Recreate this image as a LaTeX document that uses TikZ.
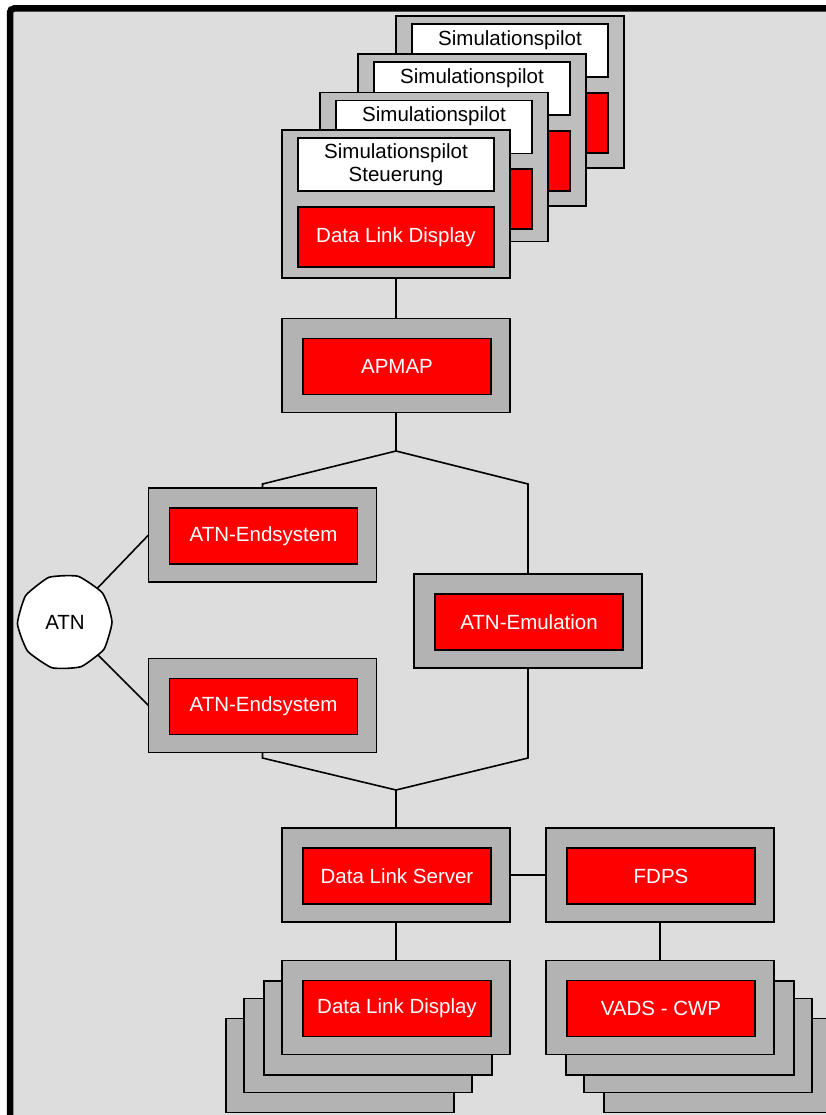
\documentclass[tikz,border=0pt]{standalone}
\usepackage{fontspec}
\setmainfont{Liberation Sans}
\definecolor{pagebg}{RGB}{221,221,221}
\definecolor{boxgray}{RGB}{179,179,179}
\definecolor{cardgray}{RGB}{190,190,190}
\definecolor{alarmred}{RGB}{255,0,0}
\begin{document}
\begin{tikzpicture}[x=1pt,y=-1pt,
  every node/.style={font=\fontsize{20.5}{23.5}\selectfont, inner sep=0pt, outer sep=0pt},
  unitbox/.style={draw=black, line width=1.8pt, fill=boxgray, minimum width=228pt, minimum height=94pt},
  cardbox/.style={draw=black, line width=1.8pt, fill=cardgray, minimum width=228pt, anchor=north west},
  redbox/.style={draw=black, line width=1.8pt, fill=alarmred, text=white, minimum width=188pt, minimum height=56pt},
  pilotbox/.style={draw=black, line width=1.8pt, fill=white, minimum width=196pt, minimum height=53pt, align=center, anchor=north},
  pilotback/.style={pilotbox, text height=21.5pt, text depth=31.5pt, minimum height=0pt},
  cardred/.style={redbox, minimum width=196pt, minimum height=60pt, anchor=north},
  wire/.style={draw=black, line width=1.6pt}
]
% sheet and frame (only its left and top edges fall inside the sheet)
\useasboundingbox (0,0) rectangle (826,1115);
\fill[pagebg] (10,8.5) rectangle (826,1115);
\draw[line width=6.5pt, rounded corners=4pt] (10,1115) -- (10,8.5) -- (826,8.5);

% stacked pilot workstations (back to front)
\node[cardbox, minimum height=152pt] (card4) at (396,16) {};
\node[pilotback] (card4w) at (510,24) {Simulationspilot};
\node[cardred] (card4r) at (510,93) {};

\node[cardbox, minimum height=152pt] (card3) at (358,54) {};
\node[pilotback] (card3w) at (472,62) {Simulationspilot};
\node[cardred] (card3r) at (472,131) {};

\node[cardbox, minimum height=149pt] (card2) at (320,92.5) {};
\node[pilotback] (card2w) at (434,100.5) {Simulationspilot};
\node[cardred] (card2r) at (434,169) {};

\node[cardbox, minimum height=148pt] (card1) at (282,130) {};
\node[pilotbox] (card1w) at (396,138) {Simulationspilot\\Steuerung};
\node[cardred] (card1r) at (396,207) {Data Link Display};

% single units
\newcommand\netbox[4]{%
  \node[unitbox] (#1) at (#2,#3) {};
  \node[redbox] (#1r) at (#2+1,#3+1) {#4};}

\netbox{apmap}{396}{365.5}{APMAP}
\netbox{es1}{262.5}{535}{ATN-Endsystem}
\netbox{es2}{262.5}{705.5}{ATN-Endsystem}
\netbox{emu}{528}{621}{ATN-Emulation}
\netbox{dls}{396}{875}{Data Link Server}
\netbox{fdps}{660}{875}{FDPS}

% stacked controller displays
\node[unitbox] (dldb4) at (340,1065.5) {};
\node[unitbox] (dldb3) at (358,1045.5) {};
\node[unitbox] (dldb2) at (378,1028) {};
\netbox{dld}{396}{1007.5}{Data Link Display}

\node[unitbox] (vadsb4) at (718,1065.5) {};
\node[unitbox] (vadsb3) at (698,1045.5) {};
\node[unitbox] (vadsb2) at (680,1028) {};
\netbox{vads}{660}{1007.5}{VADS - CWP}

% ATN cloud
\draw[line width=1.6pt, fill=white, shift={(65,622)}]
  plot[smooth cycle, tension=0.35] coordinates {
    (0:47) (17:46.0) (35:47.6) (52:46.2) (70:47.5) (88:46.4) (106:47.6)
    (124:46.1) (142:47.4) (160:46.3) (178:47.6) (196:46.2) (214:47.4)
    (232:46.0) (250:47.5) (268:46.3) (286:47.6) (304:46.1) (322:47.4) (340:46.2)};
\node[circle, minimum size=94pt] (atn) at (65,622) {ATN};

% connectors
\coordinate (j1) at (396,451);
\coordinate (j1l) at (262.5,484);
\coordinate (j1r) at (528,484);
\coordinate (j2) at (396,790);
\coordinate (j2l) at (262.5,758);
\coordinate (j2r) at (528,758);

\draw[wire] (card1.south) -- (apmap.north);
\draw[wire] (apmap.south) -- (j1) -- (j1l) -- (es1.north);
\draw[wire] (j1) -- (j1r) -- (emu.north);
\draw[wire] (es2.south) -- (j2l) -- (j2) -- (dls.north);
\draw[wire] (emu.south) -- (j2r) -- (j2);
\draw[wire] (dls.east) -- (fdps.west);
\draw[wire] (dls.south) -- (dld.north);
\draw[wire] (fdps.south) -- (vads.north);
\draw[wire] (atn) -- (es1.west);
\draw[wire] (atn) -- (es2.west);
\end{tikzpicture}
\end{document}
